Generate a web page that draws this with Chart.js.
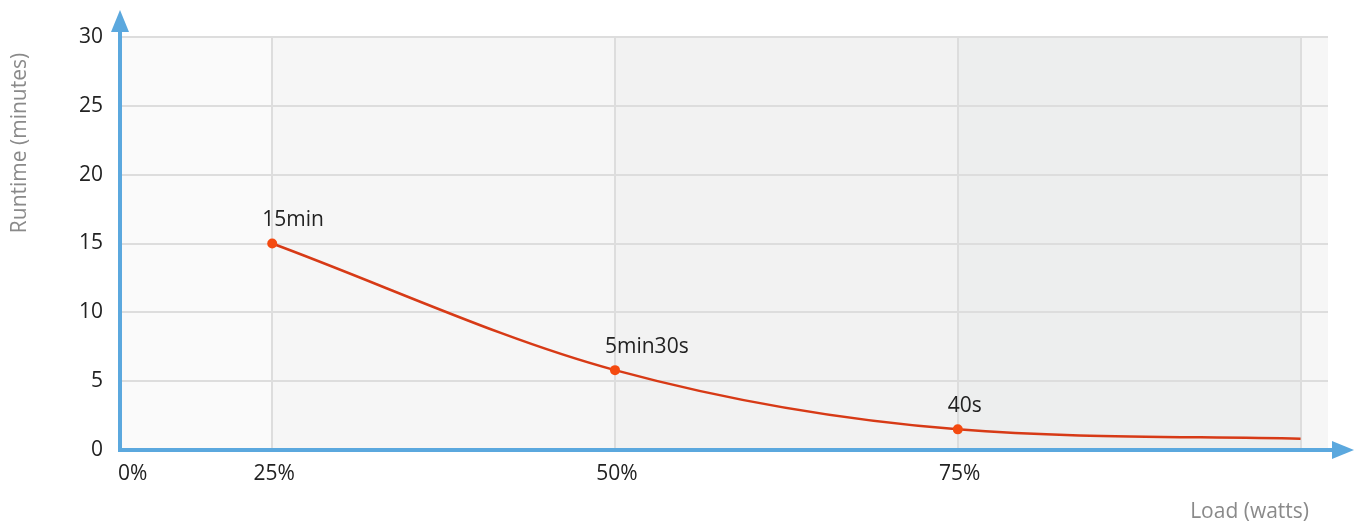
<!DOCTYPE html>
<html>
<head>
<meta charset="utf-8">
<script src="https://cdn.jsdelivr.net/npm/chart.js@4.4.1/dist/chart.umd.min.js"></script>
<style>
    html, body { margin: 0; padding: 0; background: #ffffff; }
    #wrap { width: 1359px; height: 525px; position: relative; }
</style>
</head>
<body>
<div id="wrap"><canvas id="chart"></canvas></div>
<script>
// load points (percent) and runtime (minutes)
const loads = [25, 50, 75, 100];
const runtimes = [15, 5.8, 1.5, 0.82];
const pointLabels = ["15min", "5min30s", "40s", ""];
const xTickValues = [0, 25, 50, 75];
const xTickLabels = ["0%", "25%", "50%", "75%"];
const yTicks = [0, 5, 10, 15, 20, 25, 30];
const bandEdges = [25, 50, 75, 100];
const bandColors = ["#fafafa", "#f6f6f6", "#f2f2f2", "#edeeee", "#f6f6f6"];

const FONT = "'Open Sans', 'Noto Sans', sans-serif";
const AXIS_BLUE = "#5ba8de";
const X_MIN = 13.9;
const X_MAX = 102;

const decorPlugin = {
    id: "decor",

    beforeDraw(chart) {
        const ctx = chart.ctx;
        const area = chart.chartArea;
        const x = chart.scales.x;
        const edges = [x.min].concat(bandEdges).concat([x.max]);

        ctx.save();
        for (let i = 0; i < edges.length - 1; i++) {
            const x0 = x.getPixelForValue(edges[i]);
            const x1 = x.getPixelForValue(edges[i + 1]);
            ctx.fillStyle = bandColors[i];
            ctx.fillRect(x0, area.top, x1 - x0, area.bottom - area.top);
        }
        ctx.restore();
    },

    afterDraw(chart) {
        const ctx = chart.ctx;
        const area = chart.chartArea;
        const x = chart.scales.x;

        ctx.save();

        // axes with arrows
        ctx.strokeStyle = AXIS_BLUE;
        ctx.fillStyle = AXIS_BLUE;
        ctx.lineWidth = 4;
        ctx.beginPath();
        ctx.moveTo(area.left, area.bottom);
        ctx.lineTo(area.left, 22);
        ctx.moveTo(area.left - 2, area.bottom);
        ctx.lineTo(1342, area.bottom);
        ctx.stroke();

        ctx.beginPath();
        ctx.moveTo(area.left, 10);
        ctx.lineTo(area.left - 9, 32);
        ctx.lineTo(area.left + 9, 32);
        ctx.closePath();
        ctx.fill();

        ctx.beginPath();
        ctx.moveTo(1354, area.bottom);
        ctx.lineTo(1332, area.bottom - 9);
        ctx.lineTo(1332, area.bottom + 9);
        ctx.closePath();
        ctx.fill();

        // x tick labels
        ctx.font = "21px " + FONT;
        ctx.fillStyle = "#222222";
        ctx.textBaseline = "middle";
        xTickValues.forEach((v, i) => {
            if (v < x.min) {
                ctx.textAlign = "left";
                ctx.fillText(xTickLabels[i], area.left - 2, 474);
            } else {
                ctx.textAlign = "center";
                ctx.fillText(xTickLabels[i], x.getPixelForValue(v) + 2, 474);
            }
        });

        // axis titles
        ctx.font = "21px " + FONT;
        ctx.fillStyle = "#8a8a8a";
        ctx.textAlign = "right";
        ctx.fillText("Load (watts)", 1309, 512);

        ctx.save();
        ctx.translate(20, 143);
        ctx.rotate(-Math.PI / 2);
        ctx.textAlign = "center";
        ctx.fillText("Runtime (minutes)", 0, 0);
        ctx.restore();

        // point labels
        ctx.font = "21px " + FONT;
        ctx.fillStyle = "#222222";
        ctx.textAlign = "left";
        const meta = chart.getDatasetMeta(0);
        meta.data.forEach((pt, i) => {
            if (pointLabels[i]) {
                ctx.fillText(pointLabels[i], pt.x - 10, pt.y - 23);
            }
        });

        ctx.restore();
    }
};

new Chart(document.getElementById("chart"), {
    type: "line",

    data: {
        datasets: [
            {
                data: loads.map((v, i) => ({ x: v, y: runtimes[i] })),
                borderColor: "#d73a16",
                borderWidth: 2.5,
                cubicInterpolationMode: "monotone",
                pointRadius: pointLabels.map((l) => (l ? 5 : 0)),
                pointBackgroundColor: "#f44a10",
                pointBorderColor: "#f44a10",
                pointBorderWidth: 0,
                fill: false
            }
        ]
    },

    plugins: [decorPlugin],

    options: {
        responsive: true,
        maintainAspectRatio: false,
        animation: false,

        layout: {
            padding: { top: 37, right: 31, bottom: 0, left: 0 }
        },

        plugins: {
            legend: { display: false },
            tooltip: { enabled: false }
        },

        scales: {
            x: {
                type: "linear",
                min: X_MIN,
                max: X_MAX,
                afterBuildTicks: (scale) => {
                    scale.ticks = bandEdges.map((v) => ({ value: v }));
                },
                afterFit: (scale) => {
                    scale.height = 75;
                },
                grid: {
                    color: "#dddddd",
                    lineWidth: 2,
                    drawTicks: false
                },
                border: { display: false },
                ticks: { display: false }
            },

            y: {
                min: 0,
                max: 30,
                afterBuildTicks: (scale) => {
                    scale.ticks = yTicks.map((v) => ({ value: v }));
                },
                afterFit: (scale) => {
                    scale.width = 120;
                },
                grid: {
                    color: "#dddddd",
                    lineWidth: 2,
                    drawTicks: false
                },
                border: { display: false },
                ticks: {
                    padding: 17,
                    color: "#222222",
                    font: { size: 21, family: FONT }
                }
            }
        }
    }
});
</script>
</body>
</html>
